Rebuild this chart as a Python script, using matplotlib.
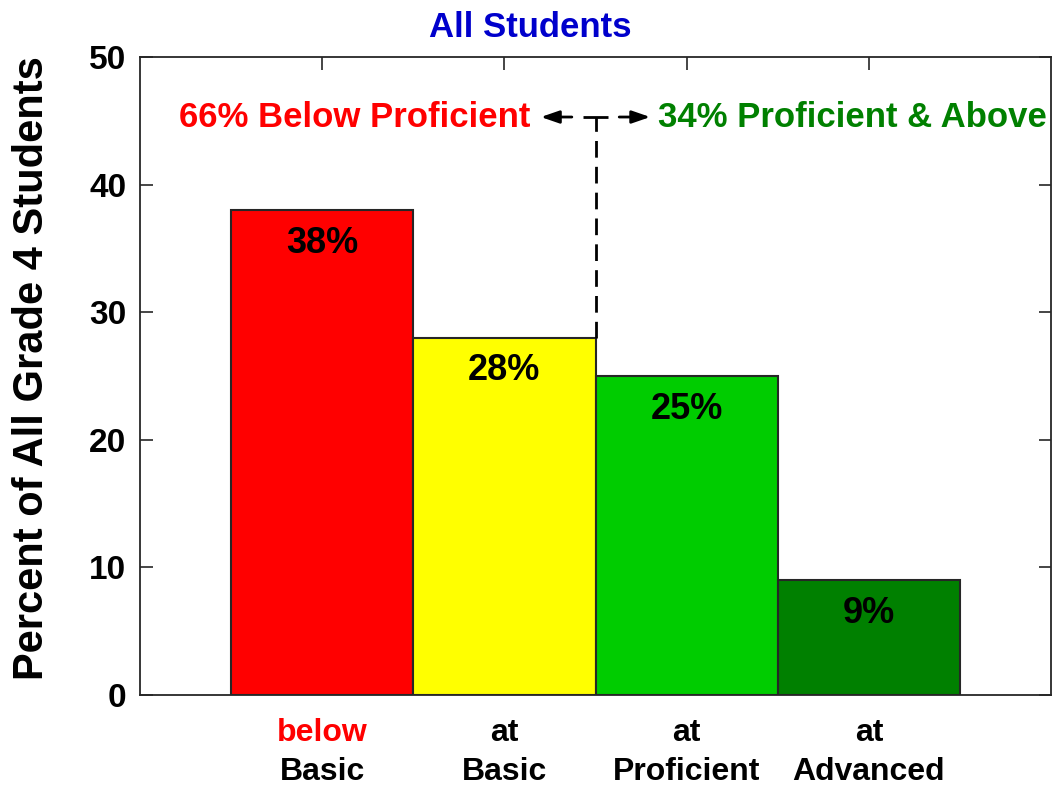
import matplotlib
matplotlib.use("Agg")
import matplotlib.pyplot as plt
import numpy as np

plt.rcParams["font.family"] = ["Liberation Sans", "DejaVu Sans"]
plt.rcParams["font.weight"] = "bold"

# data
levels_top = ["below", "at", "at", "at"]
levels_bottom = ["Basic", "Basic", "Proficient", "Advanced"]
percents = [38, 28, 25, 9]
bar_colors = ["#FF0000", "#FFFF00", "#00CC00", "#008000"]
top_label_colors = ["#FF0000", "black", "black", "black"]
below_total = 66
above_total = 34

x = np.arange(1, len(percents) + 1)
edge = "#262626"

fig = plt.figure(figsize=(10.52, 7.88), dpi=100)
ax = fig.add_axes([0.1331, 0.118, 0.866, 0.8096])

ax.bar(x, percents, width=1.0, color=bar_colors, edgecolor=edge, linewidth=1.5, zorder=2)
for xi, p in zip(x, percents):
    ax.text(xi, p - 2.6, f"{p}%", ha="center", va="center", fontsize=26,
            fontweight="bold", color="black", zorder=3)

ax.set_xlim(0, 5)
ax.set_ylim(0, 50)
ax.set_yticks([0, 10, 20, 30, 40, 50])
ax.set_xticks(x)
ax.set_xticklabels([])
ax.tick_params(axis="both", direction="in", length=9, width=1.2, color=edge,
               top=True, right=True, labelsize=24, pad=10)
for lbl in ax.get_yticklabels():
    lbl.set_fontweight("bold")
for s in ax.spines.values():
    s.set_color(edge)
    s.set_linewidth(1.3)

# two-line category labels
for xi, t, b, c in zip(x, levels_top, levels_bottom, top_label_colors):
    ax.text(xi, -3.0, t, ha="center", va="center", fontsize=23, fontweight="bold",
            color=c, clip_on=False)
    ax.text(xi, -6.0, b, ha="center", va="center", fontsize=23, fontweight="bold",
            color="black", clip_on=False)

ax.set_ylabel("Percent of All Grade 4 Students", fontsize=30, fontweight="bold")
ax.yaxis.set_label_coords(-0.0966, 0.513)

# title (offset like the original)
ax.text(2.14, 52.3, "All Students", ha="center", va="center", fontsize=25,
        fontweight="bold", color="#0000CC", clip_on=False)

# proficiency split marker
y_arrow = 45.3
ax.plot([2.5, 2.5], [percents[1], y_arrow], linestyle=(0, (6, 3.3)), color="black",
        linewidth=2.0, zorder=3)
ax.plot([2.43, 2.57], [y_arrow, y_arrow], color="black", linewidth=2.0, zorder=3,
        solid_capstyle="butt")
for tip, base in [(2.2, 2.37), (2.8, 2.63)]:
    ax.annotate("", xy=(tip, y_arrow), xytext=(base, y_arrow),
                arrowprops=dict(arrowstyle="-|>,head_length=1.1,head_width=0.38",
                                color="black", lw=2.0, shrinkA=0, shrinkB=0))

ax.text(2.14, y_arrow, f"{below_total}% Below Proficient", ha="right", va="center",
        fontsize=25, fontweight="bold", color="#FF0000")
ax.text(2.843, y_arrow, f"{above_total}% Proficient & Above", ha="left", va="center",
        fontsize=25, fontweight="bold", color="#008000")

fig.savefig("out.png", dpi=100)
